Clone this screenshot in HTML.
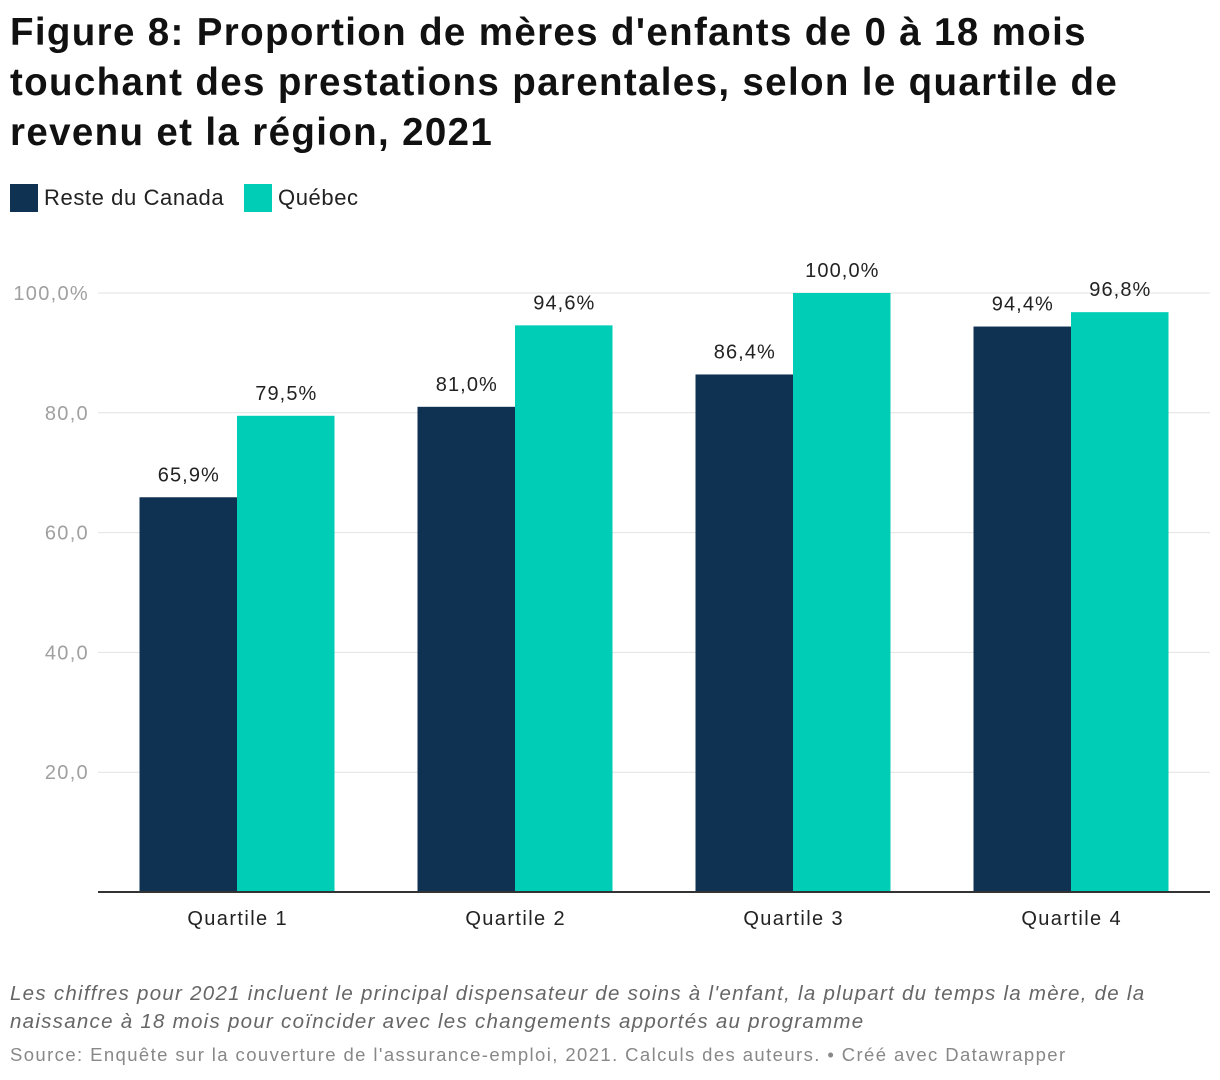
<!DOCTYPE html>
<html><head><meta charset="utf-8"><style>
body{margin:0;width:1220px;height:1080px;background:#fff;font-family:"Liberation Sans",sans-serif;position:relative;overflow:hidden}
.t{position:absolute;left:10px;top:8px;font-size:38.5px;font-weight:bold;line-height:50px;color:#111;letter-spacing:1.35px;white-space:nowrap}
.lg{position:absolute;top:184px;font-size:22px;color:#222;display:flex;align-items:center;letter-spacing:0.6px}
.sw{width:28px;height:28px;margin-right:6px}
.note{position:absolute;left:10px;top:980px;font-size:20.5px;font-style:italic;color:#666;line-height:28px;letter-spacing:1.27px;white-space:nowrap}
.src{position:absolute;left:10px;top:1044px;font-size:18.5px;color:#888;letter-spacing:1.4px;white-space:nowrap}
</style></head><body>
<div class="t">Figure 8: Proportion de mères d'enfants de 0 à 18 mois<br>touchant des prestations parentales, selon le quartile de<br>revenu et la région, 2021</div>
<div class="lg" style="left:10px"><div class="sw" style="background:#0f3152"></div>Reste du Canada</div>
<div class="lg" style="left:244px"><div class="sw" style="background:#00cdb6"></div>Québec</div>
<svg id="c" width="1220" height="1080" style="position:absolute;left:0;top:0"></svg>
<div class="note">Les chiffres pour 2021 incluent le principal dispensateur de soins à l'enfant, la plupart du temps la mère, de la<br>naissance à 18 mois pour coïncider avec les changements apportés au programme</div>
<div class="src">Source: Enquête sur la couverture de l'assurance-emploi, 2021. Calculs des auteurs. • Créé avec Datawrapper</div>
<script>
const categories=["Quartile 1","Quartile 2","Quartile 3","Quartile 4"];
const resteValues=[65.9,81.0,86.4,94.4];
const quebecValues=[79.5,94.6,100.0,96.8];
const yTicks=[20,40,60,80,100];
const yTickLabels=["20,0","40,0","60,0","80,0","100,0%"];
const svg=document.getElementById('c');const NS='http://www.w3.org/2000/svg';
const x0=98,x1=1210,yb=892,yt=293;
const y=v=>yb-(v/100)*(yb-yt);
const band=(x1-x0)/categories.length,bw=97.5;
function mk(t,a){const e=document.createElementNS(NS,t);for(const k in a)e.setAttribute(k,a[k]);svg.appendChild(e);return e;}
yTicks.forEach((v,i)=>{
 const l=mk('line',{x1:x0,x2:x1,y1:y(v),y2:y(v),stroke:'#e2e2e2','stroke-width':1});
 
 
 const t=mk('text',{x:89,y:y(v)+7,'text-anchor':'end','font-size':20,fill:'#a0a0a0','letter-spacing':'1.3px'});t.textContent=yTickLabels[i];
 
 
});
const fmt=v=>v.toFixed(1).replace('.',',')+'%';
categories.forEach((c,i)=>{
 const cx=x0+band*i+band/2;
 [[resteValues[i],'#0f3152',cx-bw],[quebecValues[i],'#00cdb6',cx]].forEach(([v,col,bx],j)=>{
  const r=mk('rect',{x:bx,y:y(v),width:bw,height:yb-y(v),fill:col});
  
  
  const t=mk('text',{x:bx+bw/2+0.6,y:y(v)-16,'text-anchor':'middle','font-size':20,fill:'#222','letter-spacing':'1.1px'});t.textContent=fmt(v);
  
  
 });
 const t=mk('text',{x:cx+0.7,y:925,'text-anchor':'middle','font-size':20,fill:'#222','letter-spacing':'1.4px'});t.textContent=c;
 
 
});
const ax=mk('line',{x1:x0,x2:x1,y1:yb,y2:yb,stroke:'#333','stroke-width':2});


</script>
</body></html>
